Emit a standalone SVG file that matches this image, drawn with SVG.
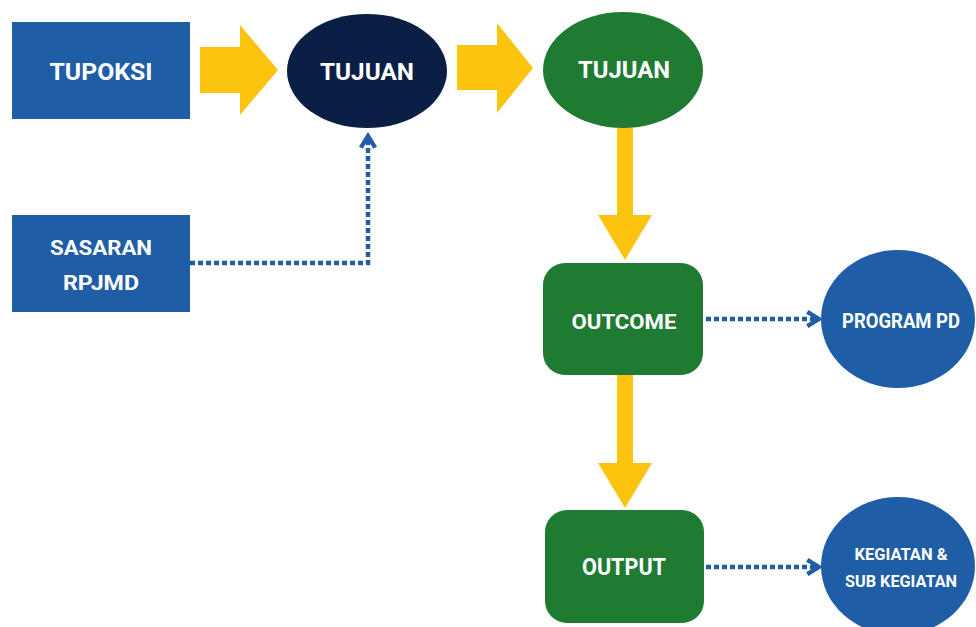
<svg xmlns="http://www.w3.org/2000/svg" width="976" height="627" viewBox="0 0 976 627">
<defs>
<marker id="chev" viewBox="0 0 10 10" refX="8" refY="5" markerWidth="4" markerHeight="4" orient="auto" markerUnits="strokeWidth">
<path d="M1.5,1 L8,5 L1.5,9" fill="none" stroke="#1f5ea6" stroke-width="2.4"/>
</marker>
</defs>
<style>
.blue{fill:#1f5ea6}
.navy{fill:#0b1f45}
.green{fill:#1f7a32}
.yellow{fill:#fdc40f}
.dot{fill:none;stroke:#1f5ea6;stroke-width:4.5;stroke-dasharray:5 3}
text{font-family:Roboto,"Liberation Sans",sans-serif;font-weight:700;fill:#ffffff;text-anchor:middle}
</style>
<rect width="976" height="627" fill="#ffffff"/>
<g id="connectors">
<polygon class="yellow" points="200,47 240,47 240,25 278,70 240,115 240,93 200,93"/>
<polygon class="yellow" points="457,45 497,45 497,23 533,68 497,113 497,90 457,90"/>
<polygon class="yellow" points="617,128 633,128 633,215 652,215 625,260 598,215 617,215"/>
<polygon class="yellow" points="617,375 633,375 633,463 652,463 625,508 598,463 617,463"/>
<path class="dot" d="M190,263 H368 V136" marker-end="url(#chev)"/>
<path class="dot" d="M706,319 H819" marker-end="url(#chev)"/>
<path class="dot" d="M706,567 H819" marker-end="url(#chev)"/>
</g>
<g id="tupoksi">
<rect class="blue" x="12" y="22" width="178" height="97"/>
<text x="101" y="80" font-size="24" textLength="103" lengthAdjust="spacingAndGlyphs">TUPOKSI</text>
</g>
<g id="sasaran">
<rect class="blue" x="12" y="215" width="178" height="97"/>
<text x="101" y="255" font-size="21" textLength="102" lengthAdjust="spacingAndGlyphs">SASARAN</text>
<text x="101" y="290" font-size="21" textLength="76" lengthAdjust="spacingAndGlyphs">RPJMD</text>
</g>
<g id="tujuan1">
<ellipse class="navy" cx="367" cy="71" rx="80" ry="57"/>
<text x="367" y="80" font-size="24" textLength="94" lengthAdjust="spacingAndGlyphs">TUJUAN</text>
</g>
<g id="tujuan2">
<ellipse class="green" cx="623" cy="70" rx="80" ry="58"/>
<text x="624" y="78" font-size="24" textLength="92" lengthAdjust="spacingAndGlyphs">TUJUAN</text>
</g>
<g id="outcome">
<rect class="green" x="543" y="263" width="160" height="112" rx="22"/>
<text x="624" y="329" font-size="21" textLength="105" lengthAdjust="spacingAndGlyphs">OUTCOME</text>
</g>
<g id="output">
<rect class="green" x="545" y="510" width="159" height="113" rx="22"/>
<text x="624" y="575" font-size="24" textLength="84" lengthAdjust="spacingAndGlyphs">OUTPUT</text>
</g>
<g id="program">
<ellipse class="blue" cx="898" cy="319" rx="77" ry="69"/>
<text x="901" y="328" font-size="20" textLength="118" lengthAdjust="spacingAndGlyphs">PROGRAM PD</text>
</g>
<g id="kegiatan">
<ellipse class="blue" cx="898" cy="566" rx="77" ry="69"/>
<text x="901" y="560" font-size="16" textLength="93" lengthAdjust="spacingAndGlyphs">KEGIATAN &amp;</text>
<text x="901" y="587" font-size="16" textLength="112" lengthAdjust="spacingAndGlyphs">SUB KEGIATAN</text>
</g>
</svg>
